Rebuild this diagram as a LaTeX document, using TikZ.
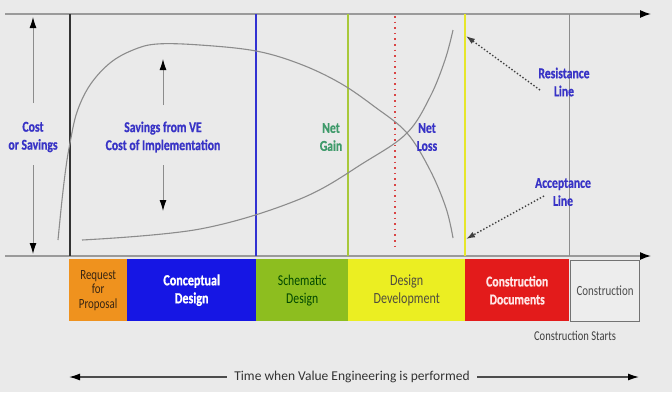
\documentclass[tikz,border=0pt]{standalone}
\usepackage{fontspec}
\setmainfont{Carlito}
\newfontfamily\condf[FakeStretch=0.78]{Carlito}
\newfontfamily\condb[FakeStretch=0.78,FakeBold=0.7]{Carlito}
\usetikzlibrary{arrows.meta}
\definecolor{bg}{HTML}{EAEAEA}
\definecolor{lblue}{HTML}{3833C6}
\definecolor{lgreen}{HTML}{3E9A6A}
\definecolor{axisgray}{HTML}{9A9A9A}
\definecolor{curvegray}{HTML}{8C8C8C}
\definecolor{borange}{HTML}{EF921E}
\definecolor{bblue}{HTML}{1616E4}
\definecolor{bgreen}{HTML}{8DBE1F}
\definecolor{byellow}{HTML}{EBEE22}
\definecolor{bred}{HTML}{E31B1B}
\definecolor{bwhite}{HTML}{EDEDED}
\definecolor{vgreen}{HTML}{A8C83A}
\definecolor{vyellow}{HTML}{E6E62A}
\definecolor{vblue}{HTML}{3232D2}
\definecolor{vred}{HTML}{D94444}
\tikzset{
  axisline/.style={axisgray,line width=1.4pt},
  curve/.style={curvegray,line width=1.1pt},
  lbl/.style={text=lblue,font=\condb\bfseries\fontsize{15}{18}\selectfont,align=center},
  phase/.style={draw=none,minimum height=62pt,inner sep=0pt,align=center,anchor=north west,font=\condf\fontsize{14}{15}\selectfont},
  dotarrow/.style={black!75,dotted,line width=1.4pt,-{Latex[length=9pt,width=6pt]}},
  grayarrow/.style={black!45,line width=1pt,-{Latex[length=11pt,width=7pt,black]}},
}
\begin{document}
\begin{tikzpicture}[x=1pt,y=-1pt]
\fill[bg] (0,0) rectangle (672,392);
\useasboundingbox (0,0) rectangle (672,392);
% axes
\coordinate (tl) at (5,14);
\coordinate (tr) at (651,14);
\coordinate (bl) at (5,256);
\coordinate (br) at (651,256);
\draw[axisline,-{Latex[length=11pt,width=8pt,black]}] (tl) -- (tr);
\draw[axisline,-{Latex[length=11pt,width=8pt,black]}] (bl) -- (br);
% phase boxes
\node[phase,fill=borange,minimum width=58pt,text=black!70!brown,font=\condf\fontsize{14}{14.5}\selectfont] (rfp) at (69,259) {Request\\for\\Proposal};
\node[phase,fill=bblue,minimum width=129pt,text=white,font=\condb\bfseries\fontsize{15.5}{18}\selectfont] (cd) at (127,259) {Conceptual\\Design};
\node[phase,fill=bgreen,minimum width=92pt,text=black!60!green!70!black,font=\condf\fontsize{15}{18}\selectfont] (sd) at (256,259) {Schematic\\Design};
\node[phase,fill=byellow,minimum width=117pt,text=black!65!yellow!60!black,font=\condf\fontsize{15.5}{18}\selectfont] (dd) at (348,259) {Design\\Development};
\node[phase,fill=bred,minimum width=104pt,text=red!10!white,font=\condb\bfseries\fontsize{15}{18}\selectfont] (cdoc) at (465,259) {Construction\\Documents};
\node[phase,fill=bwhite,draw=black!55,line width=1.2pt,minimum width=69pt,minimum height=61pt,text=black!70] (con) at (570,259.5) {Construction};
\node[font=\condf\fontsize{13.5}{15}\selectfont,text=black!75] (starts) at (575,336) {Construction Starts};
% vertical lines
\coordinate (k1) at (70,14);  \coordinate (k1b) at (70,256);
\coordinate (b1) at (256,14); \coordinate (b1b) at (256,256);
\coordinate (g1) at (348,14); \coordinate (g1b) at (348,256);
\coordinate (r1) at (395,16); \coordinate (r1b) at (395,248);
\coordinate (y1) at (465,14); \coordinate (y1b) at (465,256);
\coordinate (c1) at (569,14); \coordinate (c1b) at (569,256);
\draw[black!80,line width=1.8pt] (k1) -- (k1b);
\draw[vblue,line width=1.5pt] (b1) -- (b1b);
\draw[vgreen,line width=1.2pt] (g1) -- (g1b);
\draw[vred,line width=1.5pt,dash pattern=on 1.6pt off 4pt] (r1) -- (r1b);
\draw[vyellow,line width=1.5pt] (y1) -- (y1b);
\draw[black!45,line width=1pt] (c1) -- (c1b);
% curves
\draw[curve] plot[smooth,tension=0.6] coordinates {(58,240) (62,200) (66,167) (70,143) (77,112) (90,85) (110,63) (133,50) (157,44) (200,45) (256,51) (300,64) (340,83) (375,107) (407,133) (430,170) (446,208) (453,238)};
\draw[curve] plot[smooth,tension=0.6] coordinates {(82,240) (200,229) (300,199) (365,162) (407,133) (430,97) (445,60) (453,30)};
% cost or savings
\node[lbl] (cost) at (33,137) {Cost\\or Savings};
\coordinate (costtop) at (33,17);
\coordinate (costbot) at (33,254);
\draw[grayarrow] (33,103) -- (costtop);
\draw[grayarrow] (33,165) -- (costbot);
% savings
\node[lbl] (sav) at (163,137) {Savings from VE\\Cost of Implementation};
\coordinate (savtop) at (163,59);
\coordinate (savbot) at (163,211);
\draw[grayarrow] (163,105) -- (savtop);
\draw[grayarrow] (163,165) -- (savbot);
% net gain / loss
\node[lbl,text=lgreen] (gain) at (331,137) {Net\\Gain};
\node[lbl] (loss) at (427,137) {Net\\Loss};
% resistance / acceptance
\node[lbl] (res) at (564,82) {Resistance\\Line};
\node[lbl] (acc) at (563,192) {Acceptance\\Line};
\coordinate (restip) at (466,36);
\coordinate (acctip) at (466,239);
\draw[dotarrow] (540,90) -- (restip);
\draw[dotarrow] (544,196) -- (acctip);
% time arrow
\node[font=\fontsize{13.5}{16}\selectfont,text=black!80] (time) at (352,377) {Time when Value Engineering is performed};
\coordinate (tleft) at (69,377);
\coordinate (tright) at (639,377);
\draw[black!70,line width=1.3pt,-{Latex[length=11pt,width=7pt,black]}] ([xshift=-4pt]time.west) -- (tleft);
\draw[black!70,line width=1.3pt,-{Latex[length=11pt,width=7pt,black]}] ([xshift=4pt]time.east) -- (tright);
\end{tikzpicture}
\end{document}
